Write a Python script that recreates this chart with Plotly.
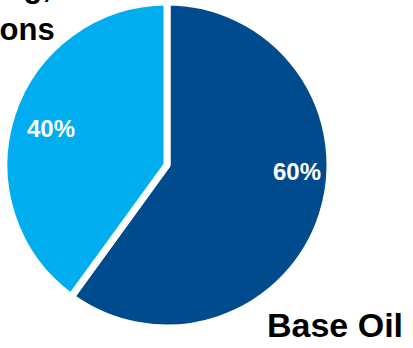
import plotly.graph_objects as go

labels = ["Base Oil", "Marketing, Operations"]
values = [60, 40]
colors = ["#004B8D", "#00AEEF"]
pct_labels = ["60%", "40%"]
corner_lines = ["Marketing,", "Operations"]

W, H = 413, 348

fig = go.Figure(go.Pie(
    labels=labels,
    values=values,
    sort=False,
    direction="clockwise",
    rotation=0,
    marker=dict(colors=colors, line=dict(color="white", width=7)),
    textinfo="none",
    hoverinfo="label+percent",
    domain=dict(x=[4 / W, 330 / W], y=[20 / H, 346 / H]),
    showlegend=False,
))

def px(x, y):
    return x / W, 1 - y / H

font_pct = dict(family="Liberation Sans, Arial", size=24, color="white")
for txt, (x, y) in zip(pct_labels, [(297, 172), (51, 128)]):
    ax, ay = px(x, y)
    fig.add_annotation(x=ax, y=ay, xref="paper", yref="paper", text="<b>%s</b>" % txt,
                       showarrow=False, font=font_pct, xanchor="center", yanchor="middle")

ax, ay = px(335, 325)
fig.add_annotation(x=ax, y=ay, xref="paper", yref="paper", text="<b>Base Oil</b>",
                   showarrow=False, font=dict(family="Liberation Sans, Arial", size=34, color="black"),
                   xanchor="center", yanchor="middle")

for line, ybot in zip(corner_lines, [6, 49]):
    ax, ay = px(-27, ybot)
    fig.add_annotation(x=ax, y=ay, xref="paper", yref="paper", text="<b>%s</b>" % line,
                       showarrow=False, font=dict(family="Liberation Sans, Arial", size=31, color="black"),
                       xanchor="center", yanchor="bottom", align="center")

fig.update_layout(width=W, height=H, margin=dict(l=0, r=0, t=0, b=0),
                  paper_bgcolor="white", plot_bgcolor="white")
fig.write_html("out.html")
